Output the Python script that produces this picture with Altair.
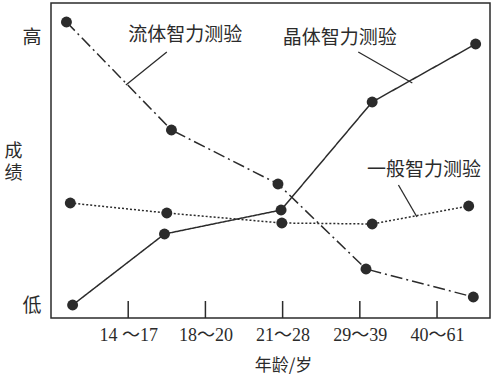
import altair as alt
import pandas as pd

# series (x in tick units: tick k = age group k; y in score units 0..315)
fluid_x = [0.20, 1.56, 2.94, 4.08, 5.47]
fluid_y = [296, 188, 134, 49, 21]
cryst_x = [0.28, 1.47, 2.98, 4.16, 5.50]
cryst_y = [13, 84, 108, 216, 274]
gen_x = [0.25, 1.50, 2.99, 4.16, 5.41]
gen_y = [115, 105, 95, 94, 112]

tick_pos = [1, 2, 3, 4, 5]
tick_labels = ["14 ～17", "18～20", "21～28", "29～39", "40～61"]

ann_text = ["流体智力测验", "晶体智力测验", "一般智力测验"]
ann_x = [1.74, 3.74, 4.83]
ann_y = [283, 280, 148]
lead_x = [1.50, 3.98, 4.50]
lead_y = [266, 266, 133]
lead_x2 = [0.97, 4.68, 4.74]
lead_y2 = [233, 235, 101]

XMAX = 5.686
YMAX = 315
INK = "#2b2b2b"
CJK = "Noto Sans CJK SC"
SERIF = "Liberation Serif, Noto Sans CJK SC"

rows = []
for name, xs, ys in [("fluid", fluid_x, fluid_y), ("cryst", cryst_x, cryst_y), ("gen", gen_x, gen_y)]:
    for i, (a, b) in enumerate(zip(xs, ys)):
        rows.append({"s": name, "x": a, "y": b, "o": i})
df = pd.DataFrame(rows)

label_map = "{" + ",".join(f"'{p}':'{l}'" for p, l in zip(tick_pos, tick_labels)) + "}"

xs = alt.Scale(domain=[0, XMAX], nice=False, zero=False)
ys = alt.Scale(domain=[0, YMAX], nice=False, zero=False)

xaxis = alt.Axis(values=tick_pos, labelExpr=f"{label_map}[datum.value]", ticks=False, domain=False,
                 grid=False, labelFont=SERIF, labelFontSize=18, labelColor=INK, labelPadding=8,
                 title="年龄/岁", titleFont=CJK, titleFontWeight="normal", titleFontSize=17,
                 titleColor=INK, titleX=232, titleY=47, titleBaseline="middle", titleAlign="center")
yaxis = alt.Axis(values=[13, 281], labelExpr="datum.value > 100 ? '高' : '低'", ticks=False,
                 domain=False, grid=False, labelFont=CJK, labelFontSize=19, labelColor=INK,
                 labelPadding=10, title=["成", "绩"], titleAngle=0, titleFont=CJK,
                 titleFontWeight="normal", titleFontSize=18, titleColor=INK, titleX=-38, titleY=148,
                 titleAlign="center", titleBaseline="middle", titleLineHeight=22)

base = alt.Chart(df)

def series(name, dash):
    d = base.transform_filter(alt.datum.s == name)
    line = d.mark_line(color=INK, strokeWidth=1.5, strokeDash=dash).encode(
        x=alt.X("x:Q", scale=xs, axis=xaxis), y=alt.Y("y:Q", scale=ys, axis=yaxis), order="o:Q")
    pts = d.mark_point(filled=True, color=INK, size=120, opacity=1).encode(
        x=alt.X("x:Q", scale=xs), y=alt.Y("y:Q", scale=ys))
    return line + pts

ticks_df = pd.DataFrame({"x": tick_pos, "y": [0] * 5, "y2": [17] * 5})
ticks = alt.Chart(ticks_df).mark_rule(color=INK, strokeWidth=1.5).encode(
    x=alt.X("x:Q", scale=xs), y=alt.Y("y:Q", scale=ys), y2="y2:Q")

ann_df = pd.DataFrame({"t": ann_text, "x": ann_x, "y": ann_y, "lx": lead_x, "ly": lead_y,
                       "lx2": lead_x2, "ly2": lead_y2})
ann = alt.Chart(ann_df).mark_text(font=CJK, fontSize=19, color=INK, align="center",
                                  baseline="middle").encode(
    x=alt.X("x:Q", scale=xs), y=alt.Y("y:Q", scale=ys), text="t:N")
leads = alt.Chart(ann_df).mark_rule(color=INK, strokeWidth=1.3).encode(
    x=alt.X("lx:Q", scale=xs), y=alt.Y("ly:Q", scale=ys), x2="lx2:Q", y2="ly2:Q")

chart = alt.layer(
    series("fluid", [12, 4, 2, 4]),
    series("cryst", [1, 0]),
    series("gen", [2, 2]),
    ticks, leads, ann,
).properties(
    width=439, height=315, autosize="none",
    padding={"left": 51, "top": 3, "right": 10, "bottom": 58},
    background="white",
).configure_view(stroke=INK, strokeWidth=1.5)

chart.save("out.html", embed_options={"renderer": "svg", "actions": False})
